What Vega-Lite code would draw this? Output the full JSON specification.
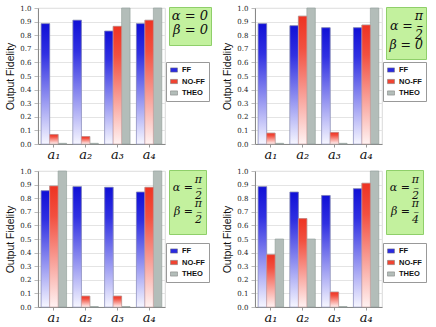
{
  "$schema": "https://vega.github.io/schema/vega-lite/v6.json",
  "background": "white",
  "padding": {"left": 5, "top": 3, "right": 0, "bottom": 0},
  "datasets": {
    "fid": [
      {"panel": "p1", "a": "a₁", "series": "FF", "value": 0.885},
      {"panel": "p1", "a": "a₁", "series": "NO-FF", "value": 0.07},
      {"panel": "p1", "a": "a₁", "series": "THEO", "value": 0.005},
      {"panel": "p1", "a": "a₂", "series": "FF", "value": 0.91},
      {"panel": "p1", "a": "a₂", "series": "NO-FF", "value": 0.055},
      {"panel": "p1", "a": "a₂", "series": "THEO", "value": 0.005},
      {"panel": "p1", "a": "a₃", "series": "FF", "value": 0.83},
      {"panel": "p1", "a": "a₃", "series": "NO-FF", "value": 0.865},
      {"panel": "p1", "a": "a₃", "series": "THEO", "value": 1.0},
      {"panel": "p1", "a": "a₄", "series": "FF", "value": 0.885},
      {"panel": "p1", "a": "a₄", "series": "NO-FF", "value": 0.91},
      {"panel": "p1", "a": "a₄", "series": "THEO", "value": 1.0},
      {"panel": "p2", "a": "a₁", "series": "FF", "value": 0.885},
      {"panel": "p2", "a": "a₁", "series": "NO-FF", "value": 0.08},
      {"panel": "p2", "a": "a₁", "series": "THEO", "value": 0.005},
      {"panel": "p2", "a": "a₂", "series": "FF", "value": 0.87},
      {"panel": "p2", "a": "a₂", "series": "NO-FF", "value": 0.94},
      {"panel": "p2", "a": "a₂", "series": "THEO", "value": 1.0},
      {"panel": "p2", "a": "a₃", "series": "FF", "value": 0.855},
      {"panel": "p2", "a": "a₃", "series": "NO-FF", "value": 0.085},
      {"panel": "p2", "a": "a₃", "series": "THEO", "value": 0.005},
      {"panel": "p2", "a": "a₄", "series": "FF", "value": 0.855},
      {"panel": "p2", "a": "a₄", "series": "NO-FF", "value": 0.875},
      {"panel": "p2", "a": "a₄", "series": "THEO", "value": 1.0},
      {"panel": "p3", "a": "a₁", "series": "FF", "value": 0.855},
      {"panel": "p3", "a": "a₁", "series": "NO-FF", "value": 0.89},
      {"panel": "p3", "a": "a₁", "series": "THEO", "value": 1.0},
      {"panel": "p3", "a": "a₂", "series": "FF", "value": 0.885},
      {"panel": "p3", "a": "a₂", "series": "NO-FF", "value": 0.08},
      {"panel": "p3", "a": "a₂", "series": "THEO", "value": 0.003},
      {"panel": "p3", "a": "a₃", "series": "FF", "value": 0.88},
      {"panel": "p3", "a": "a₃", "series": "NO-FF", "value": 0.08},
      {"panel": "p3", "a": "a₃", "series": "THEO", "value": 0.003},
      {"panel": "p3", "a": "a₄", "series": "FF", "value": 0.845},
      {"panel": "p3", "a": "a₄", "series": "NO-FF", "value": 0.88},
      {"panel": "p3", "a": "a₄", "series": "THEO", "value": 1.0},
      {"panel": "p4", "a": "a₁", "series": "FF", "value": 0.885},
      {"panel": "p4", "a": "a₁", "series": "NO-FF", "value": 0.385},
      {"panel": "p4", "a": "a₁", "series": "THEO", "value": 0.5},
      {"panel": "p4", "a": "a₂", "series": "FF", "value": 0.845},
      {"panel": "p4", "a": "a₂", "series": "NO-FF", "value": 0.65},
      {"panel": "p4", "a": "a₂", "series": "THEO", "value": 0.5},
      {"panel": "p4", "a": "a₃", "series": "FF", "value": 0.82},
      {"panel": "p4", "a": "a₃", "series": "NO-FF", "value": 0.11},
      {"panel": "p4", "a": "a₃", "series": "THEO", "value": 0.003},
      {"panel": "p4", "a": "a₄", "series": "FF", "value": 0.87},
      {"panel": "p4", "a": "a₄", "series": "NO-FF", "value": 0.91},
      {"panel": "p4", "a": "a₄", "series": "THEO", "value": 1.0}
    ]
  },
  "data": {"name": "fid"},
  "columns": 2,
  "spacing": {"row": 4, "column": 10},
  "concat": [
    {
      "width": 127, "height": 136,
      "transform": [{"filter": "datum.panel === 'p1'"}],
      "encoding": {
        "x": {"field": "a", "type": "nominal", "sort": null, "scale": {"paddingInner": 0.2, "paddingOuter": 0.1}, "axis": {"title": null, "labelAngle": 0, "labelFont": "DejaVu Serif", "labelFontStyle": "italic", "labelFontSize": 13, "labelColor": "#111", "tickSize": 3, "labelPadding": 1, "domainColor": "#888", "tickColor": "#999"}},
        "xOffset": {"field": "series", "type": "nominal", "scale": {"domain": ["FF", "NO-FF", "THEO"], "paddingInner": 0, "paddingOuter": 0}},
        "y": {"field": "value", "type": "quantitative", "scale": {"domain": [0, 1]}, "axis": {"title": "Output Fidelity", "titleFont": "Liberation Sans", "titleFontSize": 10.5, "titleFontWeight": "normal", "titleColor": "#111", "titlePadding": 4, "values": [0, 0.1, 0.2, 0.3, 0.4, 0.5, 0.6, 0.7, 0.8, 0.9, 1.0], "format": ".1f", "labelFont": "DejaVu Serif", "labelFontSize": 7, "labelColor": "#222", "tickSize": 4, "labelPadding": 3, "gridColor": "#e4e4e4", "domainColor": "#888", "tickColor": "#bbb"}}
      },
      "layer": [
        {"mark": {"type": "bar", "stroke": "#8f9c97", "strokeWidth": 0.6}, "encoding": {"color": {"field": "series", "type": "nominal", "scale": {"domain": ["FF", "NO-FF", "THEO"], "range": ["#2a2ae0", "#f04432", "#b3bdb9"]}, "legend": {"title": null, "orient": "none", "legendX": 128, "legendY": 54, "symbolType": "M-1,-0.6H1V0.6H-1Z", "symbolSize": 49, "symbolStrokeWidth": 0.5, "symbolStrokeColor": "#777", "labelFont": "Liberation Sans", "labelFontWeight": "bold", "labelFontSize": 7.5, "labelColor": "#111", "rowPadding": 3.5, "padding": 4, "strokeColor": "#999", "fillColor": "white", "labelOffset": 4}}}},
        {"transform": [{"filter": "datum.series === 'FF'"}], "mark": {"type": "bar", "stroke": "#9a9ac4", "strokeWidth": 0.6, "fill": {"gradient": "linear", "x1": 0, "y1": 0, "x2": 0, "y2": 1, "stops": [{"offset": 0, "color": "#1010d6"}, {"offset": 0.25, "color": "#3030e2"}, {"offset": 1, "color": "#f6f6ff"}]}}},
        {"transform": [{"filter": "datum.series === 'NO-FF'"}], "mark": {"type": "bar", "stroke": "#c8a0a0", "strokeWidth": 0.6, "fill": {"gradient": "linear", "x1": 0, "y1": 0, "x2": 0, "y2": 1, "stops": [{"offset": 0, "color": "#ee3322"}, {"offset": 0.25, "color": "#f25040"}, {"offset": 1, "color": "#fff2f2"}]}}},
        {"mark": {"type": "point", "opacity": 0}, "encoding": {"shape": {"field": "panel", "type": "nominal", "legend": {"title": ["α = 0", "β = 0"], "orient": "none", "legendX": 131, "legendY": -1, "titleFont": "DejaVu Serif", "titleFontStyle": "italic", "titleFontWeight": "normal", "titleFontSize": 13, "titleLineHeight": 14, "titleColor": "#111", "titleAnchor": "end", "titleAlign": "right", "titlePadding": 0, "symbolSize": 0, "symbolOpacity": 0, "labelFontSize": 0, "labelOpacity": 0, "rowPadding": 0, "padding": 3, "fillColor": "#c3f19e", "strokeColor": "#8fcf6a"}}}}
      ],
      "resolve": {"scale": {"color": "independent", "shape": "independent"}}
    },
    {
      "width": 127, "height": 136,
      "transform": [{"filter": "datum.panel === 'p2'"}],
      "encoding": {
        "x": {"field": "a", "type": "nominal", "sort": null, "scale": {"paddingInner": 0.2, "paddingOuter": 0.1}, "axis": {"title": null, "labelAngle": 0, "labelFont": "DejaVu Serif", "labelFontStyle": "italic", "labelFontSize": 13, "labelColor": "#111", "tickSize": 3, "labelPadding": 1, "domainColor": "#888", "tickColor": "#999"}},
        "xOffset": {"field": "series", "type": "nominal", "scale": {"domain": ["FF", "NO-FF", "THEO"], "paddingInner": 0, "paddingOuter": 0}},
        "y": {"field": "value", "type": "quantitative", "scale": {"domain": [0, 1]}, "axis": {"title": "Output Fidelity", "titleFont": "Liberation Sans", "titleFontSize": 10.5, "titleFontWeight": "normal", "titleColor": "#111", "titlePadding": 4, "values": [0, 0.1, 0.2, 0.3, 0.4, 0.5, 0.6, 0.7, 0.8, 0.9, 1.0], "format": ".1f", "labelFont": "DejaVu Serif", "labelFontSize": 7, "labelColor": "#222", "tickSize": 4, "labelPadding": 3, "gridColor": "#e4e4e4", "domainColor": "#888", "tickColor": "#bbb"}}
      },
      "layer": [
        {"mark": {"type": "bar", "stroke": "#8f9c97", "strokeWidth": 0.6}, "encoding": {"color": {"field": "series", "type": "nominal", "scale": {"domain": ["FF", "NO-FF", "THEO"], "range": ["#2a2ae0", "#f04432", "#b3bdb9"]}, "legend": {"title": null, "orient": "none", "legendX": 128, "legendY": 54, "symbolType": "M-1,-0.6H1V0.6H-1Z", "symbolSize": 49, "symbolStrokeWidth": 0.5, "symbolStrokeColor": "#777", "labelFont": "Liberation Sans", "labelFontWeight": "bold", "labelFontSize": 7.5, "labelColor": "#111", "rowPadding": 3.5, "padding": 4, "strokeColor": "#999", "fillColor": "white", "labelOffset": 4}}}},
        {"transform": [{"filter": "datum.series === 'FF'"}], "mark": {"type": "bar", "stroke": "#9a9ac4", "strokeWidth": 0.6, "fill": {"gradient": "linear", "x1": 0, "y1": 0, "x2": 0, "y2": 1, "stops": [{"offset": 0, "color": "#1010d6"}, {"offset": 0.25, "color": "#3030e2"}, {"offset": 1, "color": "#f6f6ff"}]}}},
        {"transform": [{"filter": "datum.series === 'NO-FF'"}], "mark": {"type": "bar", "stroke": "#c8a0a0", "strokeWidth": 0.6, "fill": {"gradient": "linear", "x1": 0, "y1": 0, "x2": 0, "y2": 1, "stops": [{"offset": 0, "color": "#ee3322"}, {"offset": 0.25, "color": "#f25040"}, {"offset": 1, "color": "#fff2f2"}]}}},
        {"mark": {"type": "point", "opacity": 0}, "encoding": {"shape": {"field": "panel", "type": "nominal", "legend": {"title": ["π", "α = –", "2", "β = 0"], "orient": "none", "legendX": 131, "legendY": -1, "titleFont": "DejaVu Serif", "titleFontStyle": "italic", "titleFontWeight": "normal", "titleFontSize": 12.5, "titleLineHeight": 9.5, "titleColor": "#111", "titleAnchor": "end", "titleAlign": "right", "titlePadding": 0, "symbolSize": 0, "symbolOpacity": 0, "labelFontSize": 0, "labelOpacity": 0, "rowPadding": 0, "padding": 3, "fillColor": "#c3f19e", "strokeColor": "#8fcf6a"}}}}
      ],
      "resolve": {"scale": {"color": "independent", "shape": "independent"}}
    },
    {
      "width": 127, "height": 136,
      "transform": [{"filter": "datum.panel === 'p3'"}],
      "encoding": {
        "x": {"field": "a", "type": "nominal", "sort": null, "scale": {"paddingInner": 0.2, "paddingOuter": 0.1}, "axis": {"title": null, "labelAngle": 0, "labelFont": "DejaVu Serif", "labelFontStyle": "italic", "labelFontSize": 13, "labelColor": "#111", "tickSize": 3, "labelPadding": 1, "domainColor": "#888", "tickColor": "#999"}},
        "xOffset": {"field": "series", "type": "nominal", "scale": {"domain": ["FF", "NO-FF", "THEO"], "paddingInner": 0, "paddingOuter": 0}},
        "y": {"field": "value", "type": "quantitative", "scale": {"domain": [0, 1]}, "axis": {"title": "Output Fidelity", "titleFont": "Liberation Sans", "titleFontSize": 10.5, "titleFontWeight": "normal", "titleColor": "#111", "titlePadding": 4, "values": [0, 0.1, 0.2, 0.3, 0.4, 0.5, 0.6, 0.7, 0.8, 0.9, 1.0], "format": ".1f", "labelFont": "DejaVu Serif", "labelFontSize": 7, "labelColor": "#222", "tickSize": 4, "labelPadding": 3, "gridColor": "#e4e4e4", "domainColor": "#888", "tickColor": "#bbb"}}
      },
      "layer": [
        {"mark": {"type": "bar", "stroke": "#8f9c97", "strokeWidth": 0.6}, "encoding": {"color": {"field": "series", "type": "nominal", "scale": {"domain": ["FF", "NO-FF", "THEO"], "range": ["#2a2ae0", "#f04432", "#b3bdb9"]}, "legend": {"title": null, "orient": "none", "legendX": 128, "legendY": 72, "symbolType": "M-1,-0.6H1V0.6H-1Z", "symbolSize": 49, "symbolStrokeWidth": 0.5, "symbolStrokeColor": "#777", "labelFont": "Liberation Sans", "labelFontWeight": "bold", "labelFontSize": 7.5, "labelColor": "#111", "rowPadding": 3.5, "padding": 4, "strokeColor": "#999", "fillColor": "white", "labelOffset": 4}}}},
        {"transform": [{"filter": "datum.series === 'FF'"}], "mark": {"type": "bar", "stroke": "#9a9ac4", "strokeWidth": 0.6, "fill": {"gradient": "linear", "x1": 0, "y1": 0, "x2": 0, "y2": 1, "stops": [{"offset": 0, "color": "#1010d6"}, {"offset": 0.25, "color": "#3030e2"}, {"offset": 1, "color": "#f6f6ff"}]}}},
        {"transform": [{"filter": "datum.series === 'NO-FF'"}], "mark": {"type": "bar", "stroke": "#c8a0a0", "strokeWidth": 0.6, "fill": {"gradient": "linear", "x1": 0, "y1": 0, "x2": 0, "y2": 1, "stops": [{"offset": 0, "color": "#ee3322"}, {"offset": 0.25, "color": "#f25040"}, {"offset": 1, "color": "#fff2f2"}]}}},
        {"mark": {"type": "point", "opacity": 0}, "encoding": {"shape": {"field": "panel", "type": "nominal", "legend": {"title": ["π", "α = –", "2", "π", "β = –", "2"], "orient": "none", "legendX": 131, "legendY": -1, "titleFont": "DejaVu Serif", "titleFontStyle": "italic", "titleFontWeight": "normal", "titleFontSize": 11, "titleLineHeight": 8, "titleColor": "#111", "titleAnchor": "end", "titleAlign": "right", "titlePadding": 0, "symbolSize": 0, "symbolOpacity": 0, "labelFontSize": 0, "labelOpacity": 0, "rowPadding": 0, "padding": 4, "fillColor": "#c3f19e", "strokeColor": "#8fcf6a"}}}}
      ],
      "resolve": {"scale": {"color": "independent", "shape": "independent"}}
    },
    {
      "width": 127, "height": 136,
      "transform": [{"filter": "datum.panel === 'p4'"}],
      "encoding": {
        "x": {"field": "a", "type": "nominal", "sort": null, "scale": {"paddingInner": 0.2, "paddingOuter": 0.1}, "axis": {"title": null, "labelAngle": 0, "labelFont": "DejaVu Serif", "labelFontStyle": "italic", "labelFontSize": 13, "labelColor": "#111", "tickSize": 3, "labelPadding": 1, "domainColor": "#888", "tickColor": "#999"}},
        "xOffset": {"field": "series", "type": "nominal", "scale": {"domain": ["FF", "NO-FF", "THEO"], "paddingInner": 0, "paddingOuter": 0}},
        "y": {"field": "value", "type": "quantitative", "scale": {"domain": [0, 1]}, "axis": {"title": "Output Fidelity", "titleFont": "Liberation Sans", "titleFontSize": 10.5, "titleFontWeight": "normal", "titleColor": "#111", "titlePadding": 4, "values": [0, 0.1, 0.2, 0.3, 0.4, 0.5, 0.6, 0.7, 0.8, 0.9, 1.0], "format": ".1f", "labelFont": "DejaVu Serif", "labelFontSize": 7, "labelColor": "#222", "tickSize": 4, "labelPadding": 3, "gridColor": "#e4e4e4", "domainColor": "#888", "tickColor": "#bbb"}}
      },
      "layer": [
        {"mark": {"type": "bar", "stroke": "#8f9c97", "strokeWidth": 0.6}, "encoding": {"color": {"field": "series", "type": "nominal", "scale": {"domain": ["FF", "NO-FF", "THEO"], "range": ["#2a2ae0", "#f04432", "#b3bdb9"]}, "legend": {"title": null, "orient": "none", "legendX": 128, "legendY": 72, "symbolType": "M-1,-0.6H1V0.6H-1Z", "symbolSize": 49, "symbolStrokeWidth": 0.5, "symbolStrokeColor": "#777", "labelFont": "Liberation Sans", "labelFontWeight": "bold", "labelFontSize": 7.5, "labelColor": "#111", "rowPadding": 3.5, "padding": 4, "strokeColor": "#999", "fillColor": "white", "labelOffset": 4}}}},
        {"transform": [{"filter": "datum.series === 'FF'"}], "mark": {"type": "bar", "stroke": "#9a9ac4", "strokeWidth": 0.6, "fill": {"gradient": "linear", "x1": 0, "y1": 0, "x2": 0, "y2": 1, "stops": [{"offset": 0, "color": "#1010d6"}, {"offset": 0.25, "color": "#3030e2"}, {"offset": 1, "color": "#f6f6ff"}]}}},
        {"transform": [{"filter": "datum.series === 'NO-FF'"}], "mark": {"type": "bar", "stroke": "#c8a0a0", "strokeWidth": 0.6, "fill": {"gradient": "linear", "x1": 0, "y1": 0, "x2": 0, "y2": 1, "stops": [{"offset": 0, "color": "#ee3322"}, {"offset": 0.25, "color": "#f25040"}, {"offset": 1, "color": "#fff2f2"}]}}},
        {"mark": {"type": "point", "opacity": 0}, "encoding": {"shape": {"field": "panel", "type": "nominal", "legend": {"title": ["π", "α = –", "2", "π", "β = –", "4"], "orient": "none", "legendX": 131, "legendY": -1, "titleFont": "DejaVu Serif", "titleFontStyle": "italic", "titleFontWeight": "normal", "titleFontSize": 11, "titleLineHeight": 8, "titleColor": "#111", "titleAnchor": "end", "titleAlign": "right", "titlePadding": 0, "symbolSize": 0, "symbolOpacity": 0, "labelFontSize": 0, "labelOpacity": 0, "rowPadding": 0, "padding": 4, "fillColor": "#c3f19e", "strokeColor": "#8fcf6a"}}}}
      ],
      "resolve": {"scale": {"color": "independent", "shape": "independent"}}
    }
  ],
  "resolve": {"scale": {"color": "independent", "shape": "independent"}, "legend": {"color": "independent", "shape": "independent"}},
  "config": {"view": {"stroke": "#cfcfcf", "strokeWidth": 0.8}}
}
